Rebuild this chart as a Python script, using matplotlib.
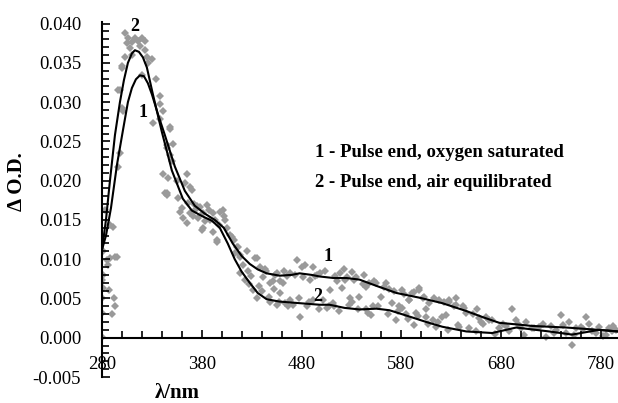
import matplotlib
matplotlib.use("Agg")
import matplotlib.pyplot as plt
from matplotlib.ticker import MultipleLocator, FixedLocator, FormatStrFormatter

# measured points (both runs, gray diamonds)
pts_x = [285, 288, 295, 286, 281, 280, 281, 287, 280, 292, 293, 280, 290, 280,
         293, 281, 288, 283, 291, 296, 298, 298, 300, 303, 303, 306, 310, 313,
         320, 323, 308, 323, 325, 326, 320, 338, 338, 331, 348, 301, 300, 296,
         300, 338, 341, 348, 351, 345, 341, 345, 365, 368,
         345, 348, 343, 345, 346, 363, 370, 361, 365, 373, 376, 381, 380, 368, 358,
         378, 385, 391, 398, 401, 381, 391, 395, 405, 408, 415, 418, 435,
         395, 416, 418, 433, 418, 423, 438, 441, 431, 435, 448, 451, 458, 461,
         448, 455, 468, 471, 478, 475, 480, 481, 488, 468, 455, 491, 458,
         491, 518, 525, 530, 535, 520, 528, 531, 538, 545, 550, 555, 560, 565,
         571, 575, 581, 588, 591, 598, 595, 605, 615, 628, 635, 621, 501, 508,
         511, 545, 523,
         581, 598, 588, 593, 605, 618, 628, 635, 625, 645, 656, 638, 658, 665,
         655, 671, 678, 691, 695, 705, 711, 725, 740, 735, 748, 751, 765, 760,
         771, 785, 791, 778, 745, 718,
         350, 355, 372, 388, 403, 412, 426, 440, 452, 465, 485, 495, 505, 515,
         542, 552, 568, 585, 602, 612, 642, 662, 685, 700, 730, 755, 775, 795,
         330, 334, 316, 318, 310, 305, 427, 444, 463, 498, 512, 548, 578, 608,
         356, 360, 366, 371, 375, 383, 387, 393, 397, 402, 410, 413, 421, 425,
         429, 437, 443, 447, 453, 457, 462, 466, 473, 477, 483, 487, 493, 497,
         503, 507, 513, 517, 522, 527, 533, 537, 543, 547, 553, 557, 563, 567,
         573, 577, 583, 587, 593, 597, 603, 607, 613, 617, 623, 627, 633, 637,
         643, 648, 652, 660, 668, 674, 682, 688, 697, 703, 713, 722, 733, 742,
         753, 762, 768, 782, 788, 792]
pts_y = [0.0099, 0.0101, 0.0103, 0.0093, 0.0080, 0.0074, 0.0063, 0.0061, 0.0051,
         0.0050, 0.0040, 0.0031, 0.0030, 0.0001,
         0.0103, 0.0110, 0.0143, 0.0162, 0.0141, 0.0217, 0.0235, 0.0315, 0.0344,
         0.0357, 0.0388, 0.0381, 0.0376, 0.0382, 0.0382, 0.0378, 0.0369, 0.0366,
         0.0357, 0.0350, 0.0334, 0.0298, 0.0279, 0.0274, 0.0268, 0.0289, 0.0346,
         0.0315, 0.0292, 0.0308, 0.0289, 0.0266, 0.0247, 0.0242, 0.0209, 0.0184,
         0.0209, 0.0192,
         0.0245, 0.0232, 0.0184, 0.0182, 0.0203, 0.0197, 0.0188, 0.0152, 0.0146,
         0.0162, 0.0152, 0.0159, 0.0137, 0.0159, 0.0160,
         0.0166, 0.0169, 0.0159, 0.0160, 0.0162, 0.0140, 0.0135, 0.0124, 0.0140,
         0.0131, 0.0115, 0.0103, 0.0102,
         0.0122, 0.0115, 0.0105, 0.0102, 0.0082, 0.0074, 0.0090, 0.0077, 0.0061,
         0.0051, 0.0070, 0.0072, 0.0057, 0.0070,
         0.0046, 0.0042, 0.0048, 0.0042, 0.0027, 0.0099, 0.0090, 0.0077, 0.0074,
         0.0082, 0.0082, 0.0048, 0.0072,
         0.0090, 0.0082, 0.0077, 0.0084, 0.0077, 0.0063, 0.0051, 0.0046, 0.0052,
         0.0036, 0.0029, 0.0070, 0.0052, 0.0070, 0.0044, 0.0023, 0.0038, 0.0048,
         0.0057, 0.0061, 0.0032, 0.0027, 0.0014, 0.0048, 0.0042, 0.0027, 0.0048,
         0.0061, 0.0044, 0.0065, 0.0074,
         0.0061, 0.0063, 0.0048, 0.0016, 0.0036, 0.0048, 0.0046, 0.0051, 0.0029,
         0.0032, 0.0036, 0.0014, 0.0025, 0.0027, 0.0008, 0.0023, 0.0013, 0.0036,
         0.0023, 0.0020, 0.0013, 0.0001, 0.0029, 0.0010, 0.0020, -0.0009, 0.0027,
         0.0014, 0.0008, 0.0004, 0.0008, 0.0014, 0.0006, 0.0014,
         0.0225, 0.0200, 0.0170, 0.0150, 0.0150, 0.0125, 0.0085, 0.0060, 0.0062,
         0.0078, 0.0040, 0.0080, 0.0038, 0.0072, 0.0068, 0.0040, 0.0062, 0.0030,
         0.0050, 0.0022, 0.0040, 0.0018, 0.0015, 0.0012, 0.0015, 0.0012, 0.0006,
         0.0010, 0.0355, 0.0330, 0.0378, 0.0372, 0.0360, 0.0375, 0.0068, 0.0085,
         0.0044, 0.0082, 0.0040, 0.0070, 0.0040, 0.0044,
         0.0178, 0.0165, 0.0172, 0.0155, 0.0168, 0.0148, 0.0163, 0.0150, 0.0143,
         0.0155, 0.0128, 0.0108, 0.0092, 0.0110, 0.0078, 0.0066, 0.0088, 0.0052,
         0.0080, 0.0046, 0.0085, 0.0040, 0.0080, 0.0050, 0.0092, 0.0045, 0.0078,
         0.0036, 0.0085, 0.0040, 0.0079, 0.0034, 0.0088, 0.0042, 0.0074, 0.0036,
         0.0080, 0.0032, 0.0072, 0.0040, 0.0064, 0.0030, 0.0060, 0.0034, 0.0056,
         0.0024, 0.0058, 0.0028, 0.0052, 0.0018, 0.0050, 0.0020, 0.0045, 0.0010,
         0.0040, 0.0016, 0.0038, 0.0012, 0.0030, 0.0020, 0.0022, 0.0005, 0.0018,
         0.0009, 0.0017, 0.0004, 0.0012, 0.0018, 0.0006, 0.0016, 0.0003, 0.0011,
         0.0018, 0.0002, 0.0012, 0.0015]

# curve 1 - oxygen saturated
c1_x = [280, 284, 289, 295, 301, 306, 310, 314, 318, 322, 326, 330, 336, 343,
        353, 363, 373, 383, 393, 402, 411, 420, 428, 436, 445, 458, 470, 478,
        490, 498, 512, 525, 538, 555, 575, 598, 621, 645, 662, 678, 695, 711,
        745, 778, 797]
c1_y = [0.0112, 0.0130, 0.0165, 0.0220, 0.0264, 0.0300, 0.0318, 0.0329, 0.0334,
        0.0333, 0.0324, 0.0310, 0.0285, 0.0258, 0.0218, 0.0187, 0.0168, 0.0158,
        0.0150, 0.0140, 0.0120, 0.0104, 0.0094, 0.0087, 0.0082, 0.0079, 0.0080,
        0.0082, 0.0080, 0.0078, 0.0076, 0.0076, 0.0074, 0.0066, 0.0057, 0.0051,
        0.0044, 0.0034, 0.0026, 0.0019, 0.0017, 0.0015, 0.0013, 0.0010, 0.0008]

# curve 2 - air equilibrated
c2_x = [280, 284, 288, 293, 298, 302, 306, 310, 313, 317, 321, 325, 331, 340,
        350, 361, 370, 380, 390, 398, 406, 413, 420, 428, 436, 445, 458, 478,
        498, 508, 523, 538, 555, 568, 588, 605, 621, 645, 671, 695, 728, 751,
        778, 797]
c2_y = [0.0112, 0.0150, 0.0200, 0.0258, 0.0300, 0.0328, 0.0350, 0.0362, 0.0366,
        0.0364, 0.0357, 0.0344, 0.0310, 0.0262, 0.0213, 0.0177, 0.0162, 0.0155,
        0.0149, 0.0140, 0.0120, 0.0100, 0.0084, 0.0070, 0.0057, 0.0049, 0.0046,
        0.0044, 0.0042, 0.0042, 0.0038, 0.0036, 0.0037, 0.0035, 0.0027, 0.0020,
        0.0014, 0.0008, 0.0006, 0.0013, 0.0008, 0.0004, 0.0010, 0.0008]

legend_lines = ["1 - Pulse end, oxygen saturated", "2 - Pulse end, air equilibrated"]
x_ticks = [280, 380, 480, 580, 680, 780]


def main():
    plt.rcParams['font.family'] = ['Liberation Serif', 'DejaVu Serif']
    fig = plt.figure(figsize=(6.18, 4.03), dpi=100)
    ax = fig.add_axes([0.165, 0.0645, 0.835, 0.881])

    ax.plot(pts_x, pts_y, 'D', color='#9a9a9a', ms=4.0, mew=0, zorder=1)
    ax.plot(c1_x, c1_y, color='black', lw=1.5, zorder=2)
    ax.plot(c2_x, c2_y, color='black', lw=1.5, zorder=2)

    ax.set_xlim(280, 797)
    ax.set_ylim(-0.005, 0.0402)

    for s in ['top', 'right']:
        ax.spines[s].set_visible(False)
    ax.spines['bottom'].set_position(('data', 0))
    ax.spines['bottom'].set_linewidth(1.5)
    ax.spines['left'].set_linewidth(1.5)

    ax.xaxis.set_major_locator(FixedLocator(x_ticks))
    ax.xaxis.set_minor_locator(MultipleLocator(20))
    ax.yaxis.set_major_locator(MultipleLocator(0.005))
    ax.yaxis.set_minor_locator(MultipleLocator(0.001))
    ax.yaxis.set_major_formatter(FormatStrFormatter('%.3f'))
    ax.tick_params(axis='both', which='both', direction='in', width=1.2)
    ax.tick_params(axis='both', which='major', length=6, labelsize=13.5)
    ax.tick_params(axis='both', which='minor', length=5)
    ax.tick_params(axis='x', which='major', pad=13)
    ax.tick_params(axis='y', which='major', pad=15)

    ax.set_ylabel('Δ O.D.', fontsize=15, fontweight='bold')
    ax.yaxis.set_label_coords(-0.145, 0.55)
    ax.text(355, -0.0070, 'λ/nm', fontsize=15, fontweight='bold',
            ha='center', va='center')

    ax.text(313, 0.0396, '2', fontsize=13, fontweight='bold', ha='center', va='center')
    ax.text(321, 0.0287, '1', fontsize=13, fontweight='bold', ha='center', va='center')
    ax.text(506, 0.0103, '1', fontsize=13, fontweight='bold', ha='center', va='center')
    ax.text(496, 0.0053, '2', fontsize=13, fontweight='bold', ha='center', va='center')

    ax.text(493, 0.0236, legend_lines[0], fontsize=13.5, fontweight='bold', va='center')
    ax.text(493, 0.0198, legend_lines[1], fontsize=13.5, fontweight='bold', va='center')

    fig.savefig('out.png', dpi=100)


if __name__ == "__main__":
    main()
